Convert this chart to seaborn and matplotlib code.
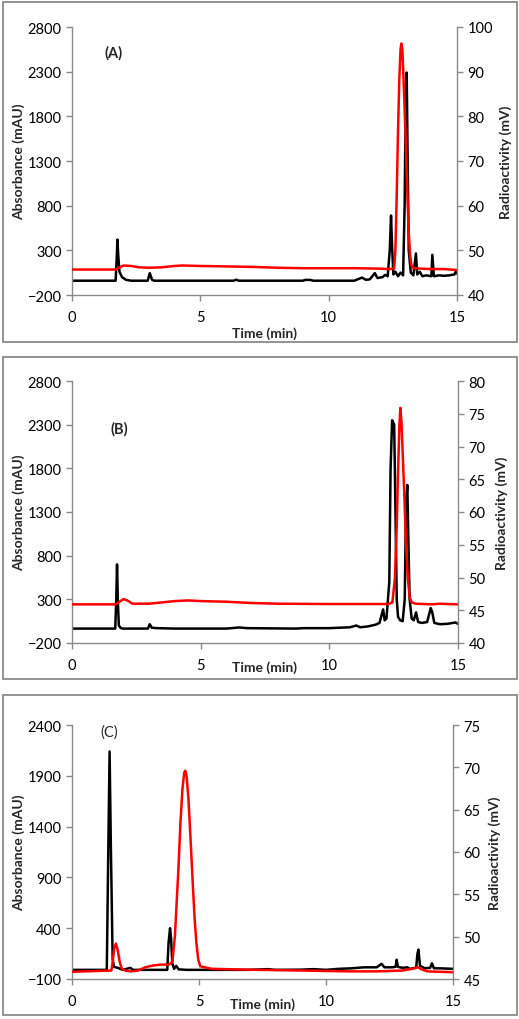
import numpy as np
import pandas as pd
import matplotlib
matplotlib.use("Agg")
import matplotlib.pyplot as plt
import seaborn as sns
from matplotlib.patches import Rectangle

# ---- values (time in min) ----
# panel A, UV trace (mAU)
a_uv_t = [0, 1.70, 1.74, 1.77, 1.80, 1.85, 1.95, 2.1, 2.3, 2.95, 3.03, 3.12, 3.2, 6.3, 6.4, 6.5,
          9.0, 9.1, 9.3, 9.4, 11.0, 11.3, 11.45, 11.6, 11.8, 11.9, 12.1, 12.2, 12.3, 12.38, 12.43,
          12.47, 12.52, 12.6, 12.7, 12.8, 12.9, 12.96, 13.0, 13.04, 13.07, 13.12, 13.2, 13.3, 13.4,
          13.45, 13.55, 13.65, 13.8, 14.0, 14.04, 14.1, 14.3, 14.5, 14.7, 14.9, 14.95, 15.0]
a_uv = [-40, -40, 200, 420, 250, 60, 0, -30, -40, -40, 45, -30, -40, -40, -28, -40,
        -40, -30, -32, -40, -40, -5, -30, -25, 45, -10, 0, 25, 10, 300, 690,
        350, 30, 60, 10, 50, 20, 800, 2000, 2290, 1500, 300, 50, 20, 265,
        30, 60, 10, 20, 10, 250, 10, 20, 15, 20, 30, 60, 40]
# panel A, radio trace (mV)
a_rad_t = [0, 1.7, 1.9, 2.0, 2.3, 2.6, 3.0, 3.5, 4.0, 4.3, 5.0, 6.0, 7.0, 8.0, 9.0, 10.0, 11.0,
           12.0, 12.4, 12.55, 12.6, 12.65, 12.7, 12.75, 12.8, 12.83, 12.87, 12.92, 12.97, 13.02,
           13.07, 13.12, 13.17, 13.23, 13.3, 13.6, 14.0, 14.5, 15.0]
a_rad = [45.7, 45.7, 46.3, 46.6, 46.5, 46.2, 46.1, 46.2, 46.5, 46.6, 46.5, 46.4, 46.3, 46.1, 46.0,
         46.0, 46.0, 45.9, 45.8, 46.0, 50, 62, 76, 88, 95, 96.3, 95, 88, 80, 71,
         62, 54, 49, 46.5, 46.0, 45.9, 45.8, 45.8, 45.6]

# panel B, UV trace (mAU)
b_uv_t = [0, 1.68, 1.72, 1.75, 1.78, 1.82, 1.9, 2.0, 2.95, 3.02, 3.1, 3.3, 4.0, 6.0, 6.5, 6.8,
          8.7, 9.0, 10.0, 10.8, 11.05, 11.2, 11.5, 11.8, 11.95, 12.09, 12.15, 12.22, 12.33, 12.38,
          12.44, 12.52, 12.56, 12.62, 12.67, 12.75, 12.85, 12.93, 12.98, 13.03, 13.07, 13.12, 13.2,
          13.28, 13.37, 13.45, 13.6, 13.8, 13.94, 14.0, 14.08, 14.3, 14.6, 14.9, 15.0]
b_uv = [-35, -35, 300, 700, 300, 0, -30, -35, -35, 15, -25, -30, -35, -35, -22, -30,
        -35, -30, -30, -20, 0, -20, -10, 10, 30, 185, 60, 80, 500, 1800,
        2350, 2300, 1500, 300, 100, 60, 50, 300, 1400, 1610, 1000, 300, 80,
        60, 150, 40, 30, 40, 200, 150, 30, 15, 20, 35, 20]
# panel B, radio trace (mV)
b_rad_t = [0, 1.7, 1.85, 2.0, 2.15, 2.35, 3.0, 3.5, 4.0, 4.5, 5.0, 6.0, 7.0, 8.0, 10.0, 12.3,
           12.45, 12.55, 12.62, 12.67, 12.72, 12.76, 12.8, 12.86, 12.92, 12.98, 13.05, 13.12,
           13.2, 13.35, 14.0, 14.3, 14.6, 15.0]
b_rad = [45.9, 45.9, 46.3, 46.7, 46.5, 46.0, 46.0, 46.2, 46.4, 46.5, 46.4, 46.3, 46.1, 46.0,
         45.95, 45.95, 46.2, 50, 58, 66, 73, 75.9, 74, 68, 62, 55, 50, 47,
         46.2, 46.0, 45.9, 46.0, 45.95, 45.9]

# panel C, UV trace (mAU)
c_uv_t = [0, 1.37, 1.42, 1.48, 1.53, 1.6, 1.65, 1.8, 2.0, 2.3, 2.4, 3.75, 3.8, 3.86, 3.9, 3.95,
          4.02, 4.1, 4.2, 4.5, 7.0, 7.7, 8.0, 9.0, 9.5, 10.0, 10.5, 11.0, 11.5, 12.0, 12.19,
          12.3, 12.6, 12.74, 12.78, 12.83, 13.0, 13.2, 13.3, 13.55, 13.6, 13.64, 13.7, 13.9,
          14.1, 14.17, 14.25, 14.5, 15.0]
c_uv = [-10, -10, 1000, 2140, 1200, 100, 20, 10, -10, 10, -10, -10, 250, 400, 300, 50,
        0, 30, -5, -10, -10, -3, -10, -8, -3, -10, 0, 5, 15, 15, 50,
        15, 15, 20, 90, 20, 10, 15, 0, 10, 150, 189, 30, 5,
        10, 55, 5, 5, 0]
# panel C, radio trace (mV)
c_rad_t = [0, 1.55, 1.6, 1.66, 1.73, 1.8, 1.88, 1.96, 2.1, 2.3, 2.6, 2.9, 3.2, 3.5, 3.8, 3.95,
           4.05, 4.12, 4.19, 4.27, 4.35, 4.42, 4.46, 4.51, 4.58, 4.66, 4.75, 4.83, 4.9, 4.97,
           5.05, 5.5, 7.0, 9.0, 10.0, 11.0, 12.0, 13.0, 13.4, 13.6, 13.8, 14.0, 15.0]
c_rad = [45.85, 46.0, 47.0, 48.6, 49.2, 48.4, 47.0, 46.2, 46.0, 45.9, 46.0, 46.4, 46.6, 46.7,
         46.7, 47.0, 50, 54, 58, 63.5, 67.5, 69.4, 69.6, 69, 66.5, 62, 56.5, 52, 49.2, 47.3,
         46.5, 46.2, 46.1, 46.0, 45.95, 45.9, 45.9, 46.0, 46.2, 46.4, 46.1, 45.9, 45.8]

x_ticks = [0, 5, 10, 15]
panel_tags = ["(A)", "(B)", "(C)"]

sns.set_style("ticks")
plt.rcParams["font.family"] = ["Lato", "DejaVu Sans"]

W, H = 519, 1020
fig = plt.figure(figsize=(W / 100, H / 100), dpi=100)

def px(x0, y0, x1, y1):
    # pixel box (top-left origin) -> figure fraction rect
    return [x0 / W, 1 - y1 / H, (x1 - x0) / W, (y1 - y0) / H]

panels = [
    dict(box=(3, 3, 517, 343), ax=(72, 28, 457, 296), uv=(a_uv_t, a_uv), rad=(a_rad_t, a_rad),
         ylim=(-200, 2800), ystep=500, rlim=(40, 100), rstep=10, tag=(0.108, 0.905), tagw="bold",
         xl=-0.116, rl=1.11),
    dict(box=(3, 358, 517, 680), ax=(72, 382, 458, 644), uv=(b_uv_t, b_uv), rad=(b_rad_t, b_rad),
         ylim=(-200, 2800), ystep=500, rlim=(40, 80), rstep=5, tag=(0.122, 0.82), tagw="bold",
         xl=-0.066, rl=1.096),
    dict(box=(3, 696, 517, 1016), ax=(72, 726, 453, 980), uv=(c_uv_t, c_uv), rad=(c_rad_t, c_rad),
         ylim=(-100, 2400), ystep=500, rlim=(45, 75), rstep=5, tag=(0.098, 0.975), tagw="normal",
         xl=-0.072, rl=1.092),
]

grey = "#8a8a8a"
fs = 10.5

for i, p in enumerate(panels):
    b = p["box"]
    fig.patches.append(Rectangle((b[0] / W, 1 - b[3] / H), (b[2] - b[0]) / W, (b[3] - b[1]) / H,
                                 transform=fig.transFigure, fill=False, edgecolor=grey, lw=1.3))
    ax = fig.add_axes(px(*p["ax"]))
    axr = ax.twinx()

    sns.lineplot(x=p["uv"][0], y=p["uv"][1], ax=ax, color="black", lw=1.8, sort=False)
    sns.lineplot(x=p["rad"][0], y=p["rad"][1], ax=axr, color="#ff0000", lw=1.8, sort=False)

    ax.set_xlim(0, 15)
    ax.set_xticks(x_ticks)
    ax.set_ylim(*p["ylim"])
    ax.set_yticks(np.arange(p["ylim"][0], p["ylim"][1] + 1, p["ystep"]))
    axr.set_ylim(*p["rlim"])
    axr.set_yticks(np.arange(p["rlim"][0], p["rlim"][1] + 1, p["rstep"]))

    for a in (ax, axr):
        a.spines["top"].set_visible(False)
        for s in ("left", "right", "bottom"):
            a.spines[s].set_color(grey)
            a.spines[s].set_linewidth(1.0)
        a.tick_params(colors=grey, labelcolor="black", labelsize=fs, length=4, width=1.0)
    ax.spines["right"].set_visible(False)
    axr.spines["left"].set_visible(False)
    axr.spines["bottom"].set_visible(False)
    ax.tick_params(axis="x", pad=7)

    ax.set_xlabel("Time (min)", fontsize=fs - 0.5, fontweight="bold")
    ax.xaxis.set_label_coords(0.5, p["xl"])
    ax.set_ylabel("Absorbance (mAU)", fontsize=fs - 0.5, fontweight="bold")
    ax.yaxis.set_label_coords(-0.122, 0.5)
    axr.set_ylabel("Radioactivity (mV)", fontsize=fs - 0.5, fontweight="bold")
    axr.yaxis.set_label_coords(p["rl"], 0.5)

    ax.text(p["tag"][0], p["tag"][1], panel_tags[i], transform=ax.transAxes,
            fontsize=fs, fontweight=p["tagw"], ha="center", va="center")

fig.savefig("out.png", dpi=100)
